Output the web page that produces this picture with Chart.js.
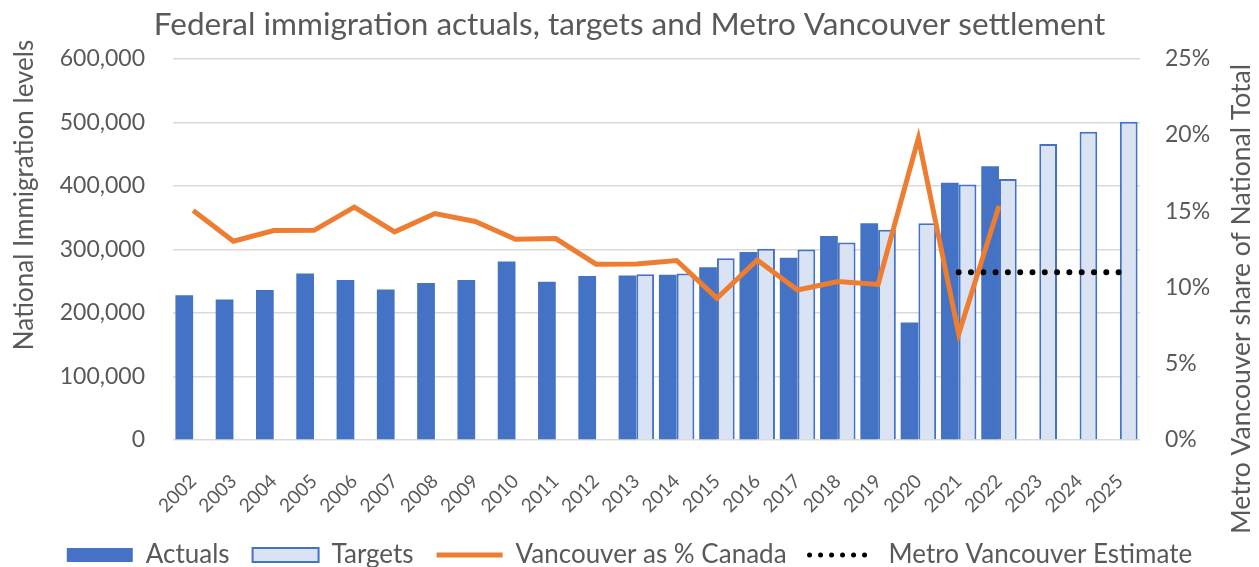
<!DOCTYPE html>
<html>
<head>
<meta charset="utf-8">
<script src="https://cdn.jsdelivr.net/npm/chart.js@4"></script>
<style>
  html, body { margin: 0; padding: 0; background: #fff; }
  #wrap { width: 1259px; height: 567px; position: relative; }
</style>
</head>
<body>
<div id="wrap"><canvas id="chart"></canvas></div>
<script>
const years = ['2002','2003','2004','2005','2006','2007','2008','2009','2010','2011','2012','2013',
               '2014','2015','2016','2017','2018','2019','2020','2021','2022','2023','2024','2025']

// national immigration, persons
const actuals = [228000, 221000, 236000, 262000, 252000, 237000, 247000, 252000, 281000, 249000, 258000, 259000,
                 260000, 272000, 296000, 287000, 321000, 341000, 185000, 405000, 431000, null, null, null]
const targets = [null, null, null, null, null, null, null, null, null, null, null, 261000,
                 262000, 286000, 301000, 300000, 311000, 331000, 341000, 402000, 411000, 466000, 485000, 501000]

// Metro Vancouver share, percent
const vanShare = [15.05, 13.04, 13.74, 13.75, 15.27, 13.65, 14.85, 14.33, 13.17, 13.21, 11.53, 11.55,
                  11.77, 9.3, 11.81, 9.84, 10.39, 10.2, 19.8, 6.95, 15.35, null, null, null]
const metroEstimate = [null, null, null, null, null, null, null, null, null, null, null, null,
                       null, null, null, null, null, null, null, 11, 11, 11, 11, 11]

const FONT = 'Lato'
const GREY = '#595959'
const BLUE = '#4472C4'
const ORANGE = '#ED7D31'

// axis titles drawn by hand: Excel puts them off-centre and the right one reads bottom-to-top
const axisTitles = {
    id: 'axisTitles',
    afterDraw(chart) {
        const {ctx} = chart
        const draw = (text, x, y, size) => {
            ctx.save()
            ctx.translate(x, y)
            ctx.rotate(-Math.PI / 2)
            ctx.font = `${size}px ${FONT}`
            ctx.fillStyle = GREY
            ctx.textAlign = 'center'
            ctx.textBaseline = 'middle'
            ctx.fillText(text, 0, 0)
            ctx.restore()
        }
        draw('National Immigration levels', 25, 195, 26)
        draw('Metro Vancouver share of National Total', 1241, 299, 26.5)
    }
}

new Chart(document.getElementById('chart'), {
    data: {
        labels: years,
        datasets: [
            {
                label: 'Actuals',
                type: 'bar',
                data: actuals,
                backgroundColor: BLUE,
                borderWidth: 0,
                yAxisID: 'y',
                order: 3
            },
            {
                label: 'Targets',
                type: 'bar',
                data: targets,
                backgroundColor: '#DAE3F3',
                borderColor: BLUE,
                borderWidth: 2,
                yAxisID: 'y',
                order: 4
            },
            {
                label: 'Vancouver as % Canada',
                type: 'line',
                data: vanShare,
                borderColor: ORANGE,
                backgroundColor: ORANGE,
                borderWidth: 5,
                pointRadius: 0,
                tension: 0,
                yAxisID: 'y1',
                order: 1
            },
            {
                label: 'Metro Vancouver Estimate',
                type: 'line',
                data: metroEstimate,
                borderColor: '#000',
                backgroundColor: '#000',
                borderWidth: 6,
                borderDash: [0, 12.3],
                borderCapStyle: 'round',
                pointRadius: 0,
                tension: 0,
                yAxisID: 'y1',
                order: 2
            }
        ]
    },
    options: {
        responsive: true,
        maintainAspectRatio: false,
        animation: false,
        layout: { padding: { top: 0, left: 0, right: 0, bottom: -11 } },
        datasets: {
            bar: { categoryPercentage: 0.88, barPercentage: 1.0 }
        },
        scales: {
            x: {
                grid: { display: false },
                border: { display: false },
                ticks: {
                    color: GREY,
                    font: { family: FONT, size: 19 },
                    minRotation: 45,
                    maxRotation: 45,
                    autoSkip: false,
                    padding: 22
                },
                afterFit: s => { s.height = 79 }
            },
            y: {
                position: 'left',
                min: 0,
                max: 600000,
                grid: { color: '#D9D9D9', lineWidth: 1.5, drawTicks: false },
                border: { display: false },
                ticks: {
                    stepSize: 100000,
                    color: GREY,
                    font: { family: FONT, size: 23 },
                    padding: 28,
                    callback: v => v.toLocaleString('en-US')
                },
                afterFit: s => { s.width = 173 }
            },
            y1: {
                position: 'right',
                min: 0,
                max: 25,
                grid: { display: false, drawTicks: false },
                border: { display: false },
                ticks: {
                    stepSize: 5,
                    color: GREY,
                    font: { family: FONT, size: 23 },
                    padding: 25,
                    callback: v => v + '%'
                },
                afterFit: s => { s.width = 119 }
            }
        },
        plugins: {
            title: {
                display: true,
                text: 'Federal immigration actuals, targets and Metro Vancouver settlement',
                color: GREY,
                font: { family: FONT, size: 31.5, weight: 'normal' },
                padding: { top: 6, bottom: 15 }
            },
            legend: {
                position: 'bottom',
                labels: {
                    color: GREY,
                    font: { family: FONT, size: 26, lineHeight: 0.7 },
                    usePointStyle: true,
                    pointStyleWidth: 66,
                    boxHeight: 14,
                    padding: 23,
                    generateLabels: chart => chart.data.datasets.map((ds, i) => {
                        const isLine = ds.type === 'line'
                        return {
                            text: ds.label,
                            datasetIndex: i,
                            fontColor: GREY,
                            pointStyle: isLine ? 'line' : 'rect',
                            fillStyle: ds.backgroundColor,
                            strokeStyle: isLine ? ds.borderColor : (ds.borderWidth ? ds.borderColor : ds.backgroundColor),
                            lineWidth: isLine ? 5 : (ds.borderWidth || 0),
                            lineDash: ds.borderDash ? [0, 11] : [],
                            lineCap: ds.borderCapStyle || 'butt',
                            hidden: false
                        }
                    })
                }
            },
            tooltip: { enabled: false }
        }
    },
    plugins: [axisTitles]
})
</script>
</body>
</html>
